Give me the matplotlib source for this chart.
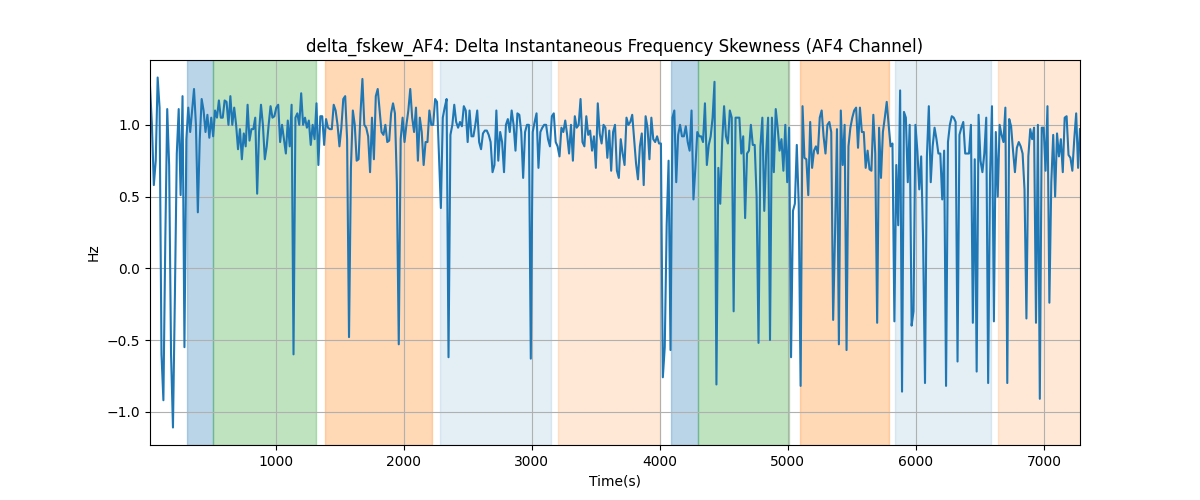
import matplotlib

matplotlib.use("Agg")

import matplotlib.pyplot as plt
import numpy as np

T_START = 16
T_END = 7282

# delta skewness values, read left to right across the recording
skew_part1 = [
    1.27, 1.0, 0.58, 0.75, 1.33, 1.12, -0.6, -0.92, 0.2, 1.11, 0.72, -0.6, -1.11, -0.2, 0.8, 1.11,
    0.51, 1.2, -0.55, 0.9, 1.12, 0.95, 1.1, 1.25, 1.0, 0.39, 0.9, 1.18, 1.1, 0.95, 1.07, 0.91,
    1.05, 0.92, 1.1, 1.05, 1.17, 1.05, 1.05, 1.17, 1.16, 1.0, 1.2, 1.0, 1.12, 1.0, 0.83, 0.97,
    0.76, 0.94, 0.85, 1.14, 0.89, 0.97, 0.97, 1.05, 0.52, 0.95, 1.14, 1.0, 0.76,
]
skew_part2 = [
    0.85, 1.0, 1.13, 1.05, 1.06, 1.12, 1.14, 0.88, 1.0, 0.9, 0.8, 1.03, 0.85, 1.14, -0.6, 1.05,
    1.08, 1.0, 1.22, 1.0, 1.05, 0.98, 1.03, 0.86, 1.0, 0.9, 1.15, 0.72, 1.06, 1.06, 0.86, 1.04,
    0.98, 0.97, 0.97, 1.14, 1.1, 1.0, 0.85, 0.98, 1.18, 1.2, 0.9, -0.48, 0.7, 1.1, 1.0, 0.75,
    0.76, 1.08, 1.32, 1.0, 0.98, 0.92, 0.67, 1.05, 0.76, 1.2, 1.25, 1.1, 0.95,
]
skew_part3 = [
    0.93, 1.0, 0.88, 0.89, 1.08, 1.15, 1.08, 0.6, -0.53, 0.9, 1.05, 0.88, 1.0, 1.1, 1.25, 1.05,
    0.95, 1.12, 0.75, 1.05, 0.95, 0.72, 0.88, 0.88, 1.1, 1.0, 1.0, 1.18, 1.16, 0.8, 0.42, 1.05,
    1.12, 1.18, -0.62, 0.93, 1.0, 1.14, 1.02, 0.98, 1.02, 0.99, 1.13, 1.1, 0.88, 1.1, 0.92, 0.92,
    1.0, 1.1, 0.88, 0.83, 0.94, 0.96, 0.96, 0.93, 0.88, 0.67, 0.72, 1.1,
]
skew_part4 = [
    0.75, 0.95, 0.88, 0.67, 1.0, 1.04, 0.95, 1.1, 1.0, 0.82, 1.08, 1.07, 0.95, 0.63, 0.95, 1.0,
    1.0, -0.63, 0.95, 1.02, 1.08, 0.7, 0.95, 0.98, 1.0, 1.0, 0.9, 0.85, 1.06, 1.08, 0.88, 0.85,
    0.78, 0.98, 0.95, 1.03, 0.93, 0.8, 1.0, 0.75, 1.06, 0.98, 1.0, 1.18, 0.88, 0.85, 1.06, 0.93,
    0.96, 0.82, 0.92, 0.7, 1.15, 0.94, 0.87, 1.0, 0.98, 0.77, 0.96, 0.68, 0.95,
]
skew_part5 = [
    1.0, 0.68, 0.63, 0.9, 0.8, 0.72, 1.05, 1.0, 1.02, 1.07, 0.9, 0.73, 0.62, 0.85, 0.94, 0.58,
    1.06, 0.98, 0.76, 1.05, 0.9, 0.88, 0.92, 0.87, 0.87, -0.76, -0.55, 0.3, 0.75, -0.57, 1.05, 1.1,
    0.6, 0.93, 1.0, 0.92, 0.92, 0.99, 0.88, 0.82, 1.1, 0.48, 0.7, 0.95, 0.92, 0.92, 0.88, 1.15,
    0.72, 0.86, 0.92, 1.05, 1.3, -0.81, 0.7, 0.45, 0.88, 1.13, 0.92, 0.87,
]
skew_part6 = [
    1.1, 1.05, -0.3, 1.05, 1.05, 1.05, 0.8, 0.92, 0.35, 0.8, 0.82, 1.0, 0.86, 0.86, 0.5, -0.52,
    0.85, 1.05, 0.4, 0.8, 1.05, -0.5, 1.05, 0.67, 1.11, 0.98, 0.82, 0.9, 0.68, 1.0, 0.6, 0.98,
    -0.62, 0.4, 0.45, 0.86, 0.45, -0.82, 1.13, 0.77, 0.76, 0.51, 1.02, 0.7, 0.82, 0.85, 0.8, 1.05,
    1.1, 0.92, 0.8, 1.0, 1.02, 0.95, -0.36, 0.25, 0.97, -0.53, 1.1, 0.72,
]
skew_part7 = [
    1.0, -0.57, 0.85, 0.98, 1.05, 1.1, 1.12, 0.84, 1.12, 0.95, 0.95, 0.7, 0.82, 0.69, 0.68, 1.07,
    0.8, -0.38, 0.98, 0.63, 0.95, 1.05, 1.16, 1.0, 0.85, 0.87, -0.37, 0.72, 0.3, 1.24, -0.86, 1.09,
    1.05, 0.6, 1.0, -0.4, -0.3, 1.0, 0.82, 0.55, 0.78, 0.2, -0.8, 0.78, 1.13, 0.6, 0.85, 0.98,
    0.9, 0.8, 0.8, 0.48, 0.82, -0.82, 0.88, 1.0, 1.06, 1.05, 1.02, -0.65, 0.93,
]
skew_part8 = [
    0.98, 1.02, 0.8, 0.8, 0.8, 1.0, -0.38, 0.76, -0.72, 1.07, 0.75, 0.67, 0.8, 1.05, -0.8, 0.65,
    1.13, -0.37, 0.95, 0.5, 1.0, 0.93, 0.88, 1.12, -0.8, 1.04, 0.99, 0.82, 0.67, 0.84, 0.88, 0.85,
    0.8, 0.55, -0.35, 0.78, 0.97, 0.9, 0.98, -0.38, 1.0, -0.91, 0.98, 0.98, 0.68, 1.13, -0.24, 0.6,
    0.93, 0.5, 0.94, 0.78, 0.9, 0.67, 1.05, 1.06, 0.79, 0.77, 0.68, 0.9, 1.08, 0.7, 0.97,
]

# labelled intervals (start, end) and their colours
span_starts = [305, 508, 1383, 2282, 3203, 4086, 4297, 5094, 5836, 6641]
span_ends = [508, 1313, 2219, 3149, 3999, 4297, 5008, 5789, 6586, 7300]
span_colors = ["tab:blue", "tab:green", "tab:orange", "tab:blue", "tab:orange",
               "tab:blue", "tab:green", "tab:orange", "tab:blue", "tab:orange"]
span_alphas = [0.3, 0.3, 0.3, 0.12, 0.17, 0.3, 0.3, 0.3, 0.12, 0.17]


def main() -> None:
    values = np.array(
        skew_part1 + skew_part2 + skew_part3 + skew_part4
        + skew_part5 + skew_part6 + skew_part7 + skew_part8
    )
    times = np.linspace(T_START, T_END, len(values))

    figure, axis = plt.subplots(figsize=(12, 5))
    for start, end, color, alpha in zip(span_starts, span_ends, span_colors, span_alphas):
        axis.axvspan(start, end, color=color, alpha=alpha)
    axis.plot(times, values, color="tab:blue", linewidth=1.5)
    axis.set_xlim(times[0], times[-1])
    axis.set_title("delta_fskew_AF4: Delta Instantaneous Frequency Skewness (AF4 Channel)")
    axis.set_xlabel("Time(s)")
    axis.set_ylabel("Hz")
    axis.grid(True)
    figure.savefig("out.png", dpi=100)
    plt.close(figure)


if __name__ == "__main__":
    main()
